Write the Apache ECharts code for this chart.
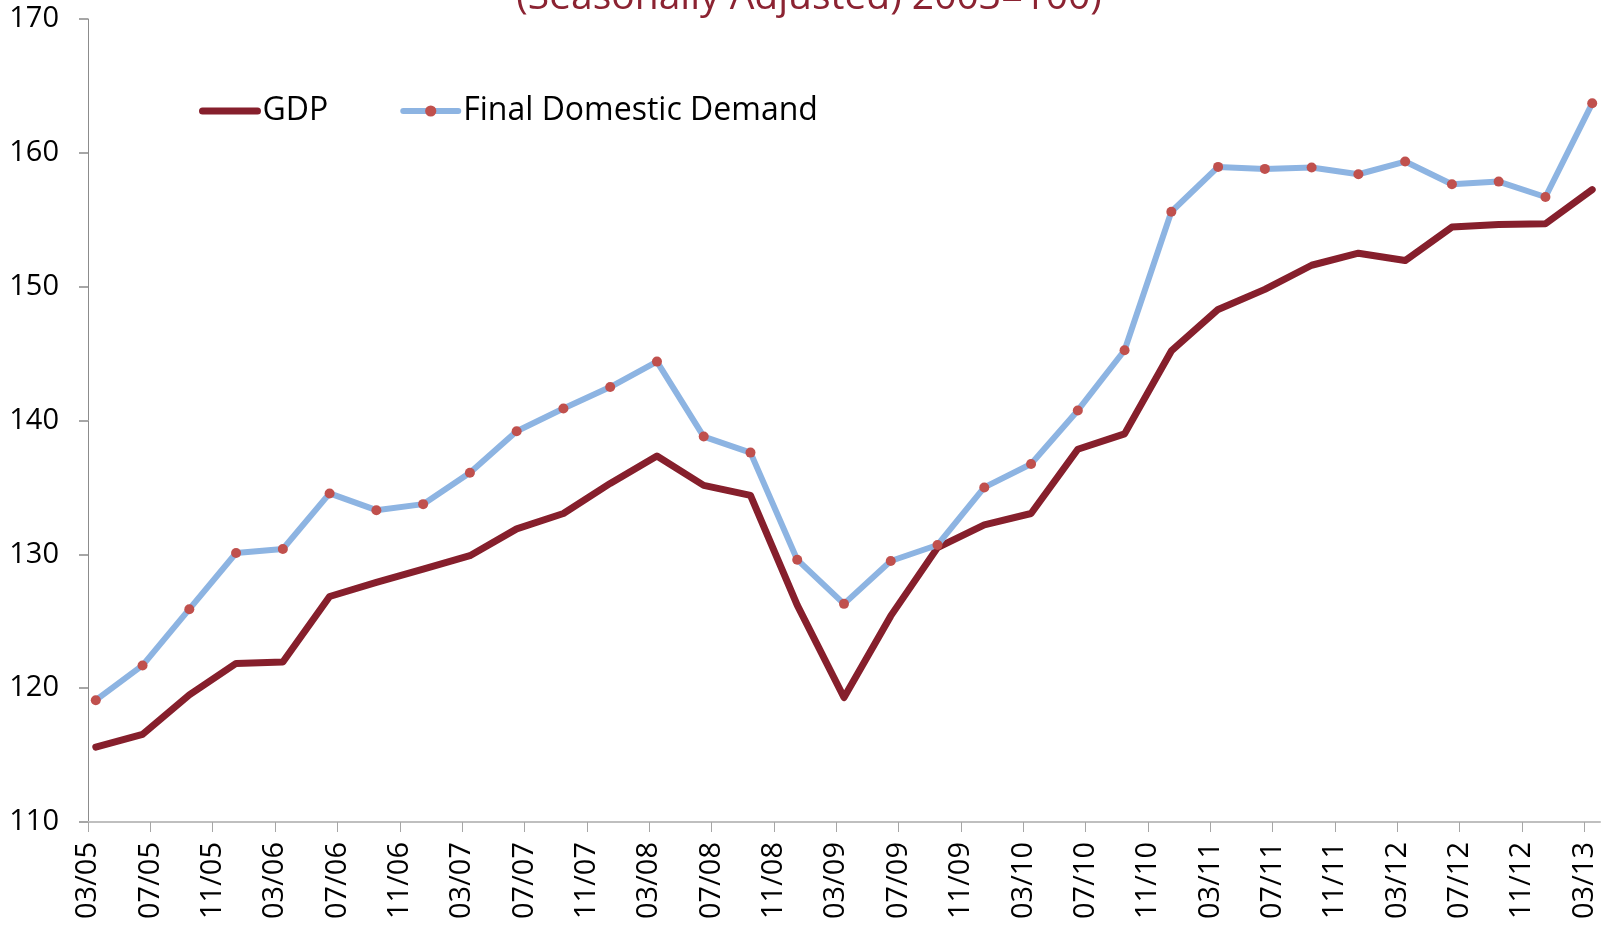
<!DOCTYPE html>
<html>
<head>
<meta charset="utf-8">
<style>
  html, body { margin: 0; padding: 0; background: #ffffff; }
  #chart { width: 1619px; height: 925px; }
</style>
<script src="https://cdn.jsdelivr.net/npm/echarts@6/dist/echarts.min.js"></script>
</head>
<body>
<div id="chart"></div>
<script>
// ---- Data ----
var titleText = '(Seasonally Adjusted) 2003=100)';
var quarters = ['03/05','06/05','09/05','12/05','03/06','06/06','09/06','12/06',
                '03/07','06/07','09/07','12/07','03/08','06/08','09/08','12/08',
                '03/09','06/09','09/09','12/09','03/10','06/10','09/10','12/10',
                '03/11','06/11','09/11','12/11','03/12','06/12','09/12','12/12','03/13'];
var gdp = [115.6, 116.55, 119.5, 121.85, 121.95, 126.85, 127.9, 128.9,
           129.9, 131.9, 133.05, 135.3, 137.35, 135.15, 134.4, 126.2,
           119.3, 125.4, 130.5, 132.2, 133.05, 137.85, 139.0, 145.2,
           148.3, 149.8, 151.6, 152.5, 151.95, 154.45, 154.65, 154.7, 157.25];
var fdd = [119.1, 121.7, 125.9, 130.1, 130.4, 134.55, 133.3, 133.75,
           136.1, 139.2, 140.9, 142.5, 144.4, 138.8, 137.6, 129.6,
           126.3, 129.5, 130.7, 135.0, 136.75, 140.75, 145.25, 155.6,
           158.95, 158.8, 158.9, 158.4, 159.35, 157.65, 157.85, 156.7, 163.7];
var tickLabels = ['03/05','07/05','11/05','03/06','07/06','11/06','03/07','07/07',
                  '11/07','03/08','07/08','11/08','03/09','07/09','11/09','03/10',
                  '07/10','11/10','03/11','07/11','11/11','03/12','07/12','11/12','03/13'];
var yTicks = [110, 120, 130, 140, 150, 160, 170];

// month index counted from 03/05
function monthIndex(lbl) {
  var p = lbl.split('/');
  return (parseInt(p[1], 10) - 5) * 12 + (parseInt(p[0], 10) - 3);
}
var tickValues = tickLabels.map(monthIndex);
var labelByMonth = {};
tickLabels.forEach(function (l) { labelByMonth[monthIndex(l)] = l; });
// monthly date axis: each point sits in the middle of its month slot
var gdpData = quarters.map(function (q, i) { return [monthIndex(q) + 0.5, gdp[i]]; });
var fddData = quarters.map(function (q, i) { return [monthIndex(q) + 0.5, fdd[i]]; });

var FONT = 'Open Sans';
var GDP_COLOR = '#861F2C';
var FDD_COLOR = '#8DB4E2';
var MARK_COLOR = '#C0504D';
var chart = echarts.init(document.getElementById('chart'), null, { renderer: 'canvas' });
chart.setOption({
  animation: false,
  backgroundColor: '#ffffff',
  graphic: [{
    type: 'text',
    x: 809, y: -2,
    style: {
      text: titleText,
      fill: '#8B2332',
      font: '39px "Open Sans"',
      align: 'center',
      verticalAlign: 'middle'
    }
  }],
  legend: {
    left: 199, top: 95, padding: 0,
    itemWidth: 55, itemHeight: 14, itemGap: 72,
    textStyle: { fontFamily: FONT, fontSize: 32, color: '#000000' },
    data: [
      { name: 'GDP', itemStyle: { opacity: 0 }, lineStyle: { width: 7, color: GDP_COLOR, cap: 'round' } },
      { name: 'Final Domestic Demand', itemStyle: { color: MARK_COLOR }, lineStyle: { width: 6, color: FDD_COLOR, cap: 'round' } }
    ]
  },
  grid: { left: 88, right: 19, top: 19, bottom: 103, containLabel: false },
  xAxis: {
    type: 'value',
    min: 0, max: 97, interval: 4,
    splitLine: { show: false },
    axisLine: { show: true, lineStyle: { color: '#BFBFBF', width: 2 } },
    axisTick: { show: true, length: 10, lineStyle: { color: '#A6A6A6', width: 1 }, customValues: tickValues },
    axisLabel: {
      rotate: 90, margin: 20, fontFamily: FONT, fontSize: 29, color: '#000000',
      customValues: tickValues,
      formatter: function (v) { return labelByMonth[v] !== undefined ? labelByMonth[v] : ''; }
    }
  },
  yAxis: {
    type: 'value',
    min: yTicks[0], max: yTicks[yTicks.length - 1], interval: 10,
    splitLine: { show: false },
    axisLine: { show: true, lineStyle: { color: '#8C8C8C', width: 1 } },
    axisTick: { show: true, length: 9, lineStyle: { color: '#A6A6A6', width: 2 } },
    axisLabel: { margin: 29, fontFamily: FONT, fontSize: 29, color: '#000000' }
  },
  series: [
    {
      name: 'GDP', type: 'line', data: gdpData,
      symbol: 'none',
      lineStyle: { color: GDP_COLOR, width: 7, join: 'round', cap: 'round' },
      itemStyle: { color: GDP_COLOR }
    },
    {
      name: 'Final Domestic Demand', type: 'line', data: fddData,
      symbol: 'circle', symbolSize: 10, showAllSymbol: true,
      lineStyle: { color: FDD_COLOR, width: 6, join: 'round' },
      itemStyle: { color: MARK_COLOR, borderWidth: 0 }
    }
  ]
});
</script>
</body>
</html>
